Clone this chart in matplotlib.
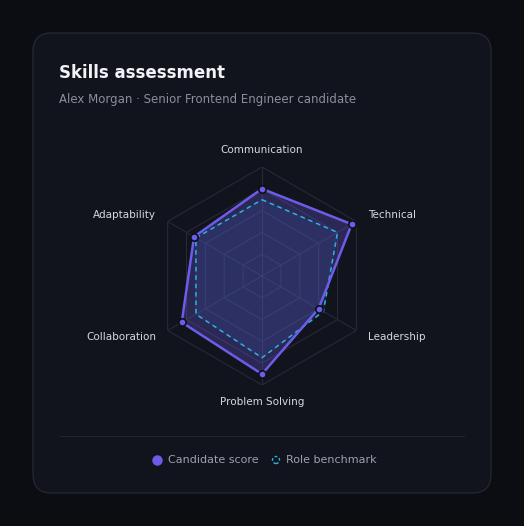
import numpy as np
import matplotlib.pyplot as plt
from matplotlib.patches import FancyBboxPatch, Circle
from matplotlib.lines import Line2D

skills = ["Communication", "Technical", "Leadership", "Problem Solving", "Collaboration", "Adaptability"]
candidate = [80, 95, 60, 90, 85, 72]
benchmark = [70, 80, 65, 75, 70, 70]

W, H = 524, 526
fig = plt.figure(figsize=(W / 100, H / 100), dpi=100)
fig.patch.set_facecolor("#0b0d13")

card = FancyBboxPatch((33 / W, 33 / H), 458 / W, 460 / H, boxstyle="round,pad=0,rounding_size=0.035",
                      transform=fig.transFigure, facecolor="#12141d", edgecolor="#23262f", lw=1, zorder=-5)
fig.patches.append(card)

fig.text(59 / W, 1 - 73 / H, "Skills assessment", color="#f2f3f7", fontsize=12, fontweight="bold", va="center")
fig.text(59 / W, 1 - 99 / H, "Alex Morgan · Senior Frontend Engineer candidate", color="#8a8f9c", fontsize=8.5, va="center")
fig.lines.append(Line2D([60 / W, 464 / W], [1 - 436 / H] * 2, transform=fig.transFigure, color="#22252e", lw=0.8, zorder=-4))

cx, cy, R = 262, 276, 109
ax = fig.add_axes([(cx - R) / W, (H - cy - R) / H, 2 * R / W, 2 * R / H], projection="polar")
ax.set_facecolor("none")
ax.set_theta_zero_location("N")
ax.set_theta_direction(-1)
ax.set_ylim(0, 100)
ax.axis("off")

n = len(skills)
ang = np.arange(n) * 2 * np.pi / n
ac = np.append(ang, ang[0])

for lv in [20, 40, 60, 80, 100]:
    ax.plot(ac, [lv] * (n + 1), color="#262a36", lw=0.8, zorder=1)
for a in ang:
    ax.plot([a, a], [0, 100], color="#262a36", lw=0.8, zorder=1)

c = np.append(candidate, candidate[0])
b = np.append(benchmark, benchmark[0])
ax.fill(ac, c, color="#6c5ce7", alpha=0.28, zorder=2)
ax.fill(ac, b, color="#3a6fd0", alpha=0.12, zorder=2)
ax.plot(ac, b, color="#2bb3e0", lw=1.1, ls=(0, (3, 2.5)), zorder=3)
ax.plot(ac, c, color="#6c5ce7", lw=1.8, zorder=4)
ax.scatter(ang, candidate, s=28, color="#6c5ce7", edgecolor="#0d0f16", linewidth=1.2, zorder=5, clip_on=False)

for a, s in zip(ang, skills):
    ha = "center"
    if 0.1 < a < np.pi - 0.1:
        ha = "left"
    elif a > np.pi + 0.1:
        ha = "right"
    r = 116 if ha == "center" else 112
    ax.text(a, r, s, color="#d6d8e0", fontsize=7.5, ha=ha, va="center", clip_on=False)

# legend
ly = 1 - 460 / H
fig.lines.append(Line2D([157 / W], [ly], transform=fig.transFigure, marker="o", ms=6.5,
                        color="#6c5ce7", ls="none"))
fig.text(168 / W, ly, "Candidate score", color="#9ca1ad", fontsize=8, va="center")
fig.patches.append(Circle((276 / W, ly), 3.5 / W, transform=fig.transFigure, fill=False,
                          ec="#2bb3e0", lw=1, ls=(0, (2, 1.5))))
fig.text(286 / W, ly, "Role benchmark", color="#9ca1ad", fontsize=8, va="center")

fig.savefig("out.png", dpi=100, facecolor=fig.get_facecolor())
